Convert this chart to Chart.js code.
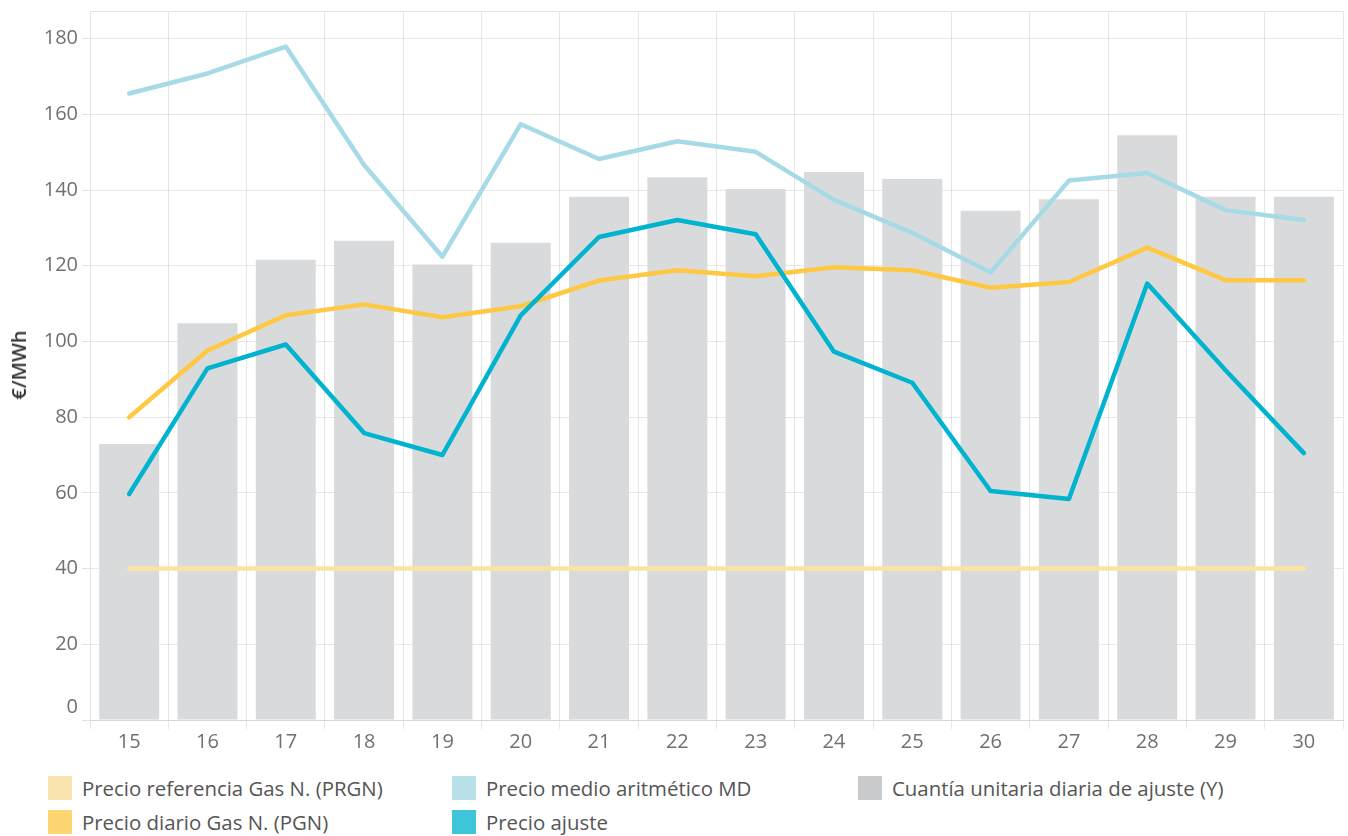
<!DOCTYPE html>
<html><head><meta charset="utf-8">
<script src="https://cdn.jsdelivr.net/npm/chart.js@4"></script>
<style>
body{margin:0;background:#fff;font-family:"Open Sans",Lato,sans-serif;}
#wrap{position:relative;width:1348px;height:836px;overflow:hidden;}
#c{position:absolute;left:0;top:-5px;}
.ytitle{position:absolute;left:19px;top:365px;transform:translate(-50%,-50%) rotate(-90deg);font-size:20px;font-weight:600;color:#333;white-space:nowrap;line-height:22px;}
.leg{position:absolute;display:flex;align-items:center;font-size:20.4px;color:#555;white-space:nowrap;}
.sw{width:24px;height:24px;margin-right:10px;flex:none;}
</style></head>
<body>
<div id="wrap">
<canvas id="c" width="1348" height="765"></canvas>
<div class="ytitle">€/MWh</div>
<div id="legend"></div>
</div>
<script>
const days = ['15','16','17','18','19','20','21','22','23','24','25','26','27','28','29','30'];
const yTicks = [0,20,40,60,80,100,120,140,160,180];
const prgn = [40,40,40,40,40,40,40,40,40,40,40,40,40,40,40,40];
const pgn = [80,97.6,106.9,109.8,106.4,109.3,116.1,118.8,117.2,119.6,118.8,114.2,115.7,124.8,116.2,116.2];
const mediaMD = [165.5,170.8,177.9,146.6,122.4,157.4,148.2,152.9,150.1,137.4,128.7,118.2,142.5,144.5,134.7,132.1];
const ajuste = [59.7,92.9,99.2,75.8,70.0,106.9,127.6,132.1,128.3,97.3,89.1,60.5,58.4,115.3,92.4,70.5];
const cuantiaY = [72.9,104.8,121.6,126.6,120.3,126.1,138.2,143.4,140.3,144.8,142.9,134.5,137.6,154.5,138.2,138.2];

const legendItems = [
  {label:'Precio referencia Gas N. (PRGN)', color:'#fae5b1', x:48, y:776},
  {label:'Precio diario Gas N. (PGN)', color:'#fdd672', x:48, y:810},
  {label:'Precio medio aritmético MD', color:'#b9e1ea', x:452, y:776},
  {label:'Precio ajuste', color:'#3ec5da', x:452, y:810},
  {label:'Cuantía unitaria diaria de ajuste (Y)', color:'#c9cacc', x:858, y:776}
];
const lg = document.getElementById('legend');
legendItems.forEach(it=>{
  const d=document.createElement('div');d.className='leg';
  d.style.left=it.x+'px';d.style.top=it.y+'px';d.style.height='24px';
  d.innerHTML='<div class="sw" style="background:'+it.color+'"></div><span>'+it.label+'</span>';
  lg.appendChild(d);
});

const TICK_FONT = '20px "Open Sans"';
const frame = {
  id:'frame',
  afterDraw(chart){
    const {ctx, chartArea:a, scales} = chart;
    ctx.save();ctx.strokeStyle='#e2e2e2';ctx.lineWidth=1;
    ctx.beginPath();ctx.moveTo(a.left,a.top+0.5);ctx.lineTo(a.right,a.top+0.5);ctx.stroke();
    // zero label sits slightly above the axis line, as in the reference
    const ys = scales.y;
    ctx.font = TICK_FONT; ctx.fillStyle='#707070'; ctx.textAlign='right'; ctx.textBaseline='middle';
    ctx.fillText(String(yTicks[0]), ys.right - 12, ys.getPixelForValue(yTicks[0]) - 13);
    ctx.restore();
  }
};

const lineBase = {type:'line', pointRadius:0, borderWidth:4.5, tension:0, borderCapStyle:'round', borderJoinStyle:'round', fill:false};

new Chart(document.getElementById('c'), {
  data:{
    labels: days,
    datasets:[
      Object.assign({}, lineBase, {label:'Precio ajuste', data:ajuste, borderColor:'#00b3cf', order:1}),
      Object.assign({}, lineBase, {label:'Precio diario Gas N. (PGN)', data:pgn, borderColor:'#fec843', order:2}),
      Object.assign({}, lineBase, {label:'Precio medio aritmético MD', data:mediaMD, borderColor:'#a7dae7', order:3}),
      Object.assign({}, lineBase, {label:'Precio referencia Gas N. (PRGN)', data:prgn, borderColor:'#fbe3a0', order:4}),
      {type:'bar', label:'Cuantía unitaria diaria de ajuste (Y)', data:cuantiaY, backgroundColor:'#d9dadc', barPercentage:0.766, categoryPercentage:1, order:10}
    ]
  },
  options:{
    responsive:false, animation:false,
    layout:{padding:{top:5,right:5,left:0,bottom:0}},
    plugins:{legend:{display:false}, tooltip:{enabled:false}},
    scales:{
      x:{
        grid:{offset:true, color:'#e6e6e6', tickLength:9, drawTicks:true, tickColor:'#e6e6e6'},
        border:{color:'#d6d6d6'},
        ticks:{color:'#707070', font:{family:'Open Sans', size:20}, padding:1, maxRotation:0},
        afterFit(s){s.height=40;}
      },
      y:{
        min:0, max:187.3, z:1,
        afterBuildTicks(s){s.ticks = yTicks.map(v=>({value:v}));},
        grid:{color:'rgba(0,0,0,0.09)', tickLength:8, tickColor:'#e2e2e2'},
        border:{color:'#e2e2e2'},
        ticks:{color:'#707070', font:{family:'Open Sans', size:20}, padding:4,
               callback:(v)=> v===yTicks[0] ? '' : String(v)},
        afterFit(s){s.width=90;}
      }
    }
  },
  plugins:[frame]
});
</script>
</body></html>
